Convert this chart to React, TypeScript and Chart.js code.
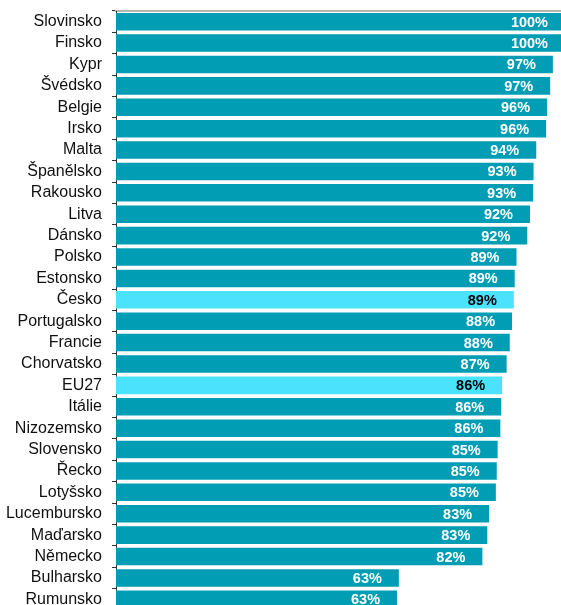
import React, { useEffect, useRef } from 'react';
import { Chart, registerables } from 'chart.js';

Chart.register(...registerables);

const categories = [
  'Slovinsko', 'Finsko', 'Kypr', 'Švédsko', 'Belgie', 'Irsko', 'Malta', 'Španělsko',
  'Rakousko', 'Litva', 'Dánsko', 'Polsko', 'Estonsko', 'Česko', 'Portugalsko', 'Francie',
  'Chorvatsko', 'EU27', 'Itálie', 'Nizozemsko', 'Slovensko', 'Řecko', 'Lotyšsko',
  'Lucembursko', 'Maďarsko', 'Německo', 'Bulharsko', 'Rumunsko',
];

const values = [
  100, 100, 97.3, 96.7, 96.0, 95.8, 93.6, 93.0,
  92.9, 92.2, 91.6, 89.2, 88.8, 88.6, 88.2, 87.7,
  87.0, 86.0, 85.8, 85.6, 85.0, 84.8, 84.6,
  83.1, 82.7, 81.6, 63.0, 62.6,
];

const highlighted = ['Česko', 'EU27'];

const BAR = '#009DB4';
const BAR_HI = '#4AE2FD';
const FONT = "'Liberation Sans', Arial, sans-serif";

export default function App() {
  const ref = useRef<HTMLCanvasElement>(null);

  useEffect(() => {
    const labelPlugin = {
      id: 'valueLabels',
      afterDatasetsDraw(chart: any) {
        const ctx = chart.ctx;
        const meta = chart.getDatasetMeta(0);
        ctx.save();
        ctx.font = `bold 14.5px ${FONT}`;
        ctx.textAlign = 'right';
        ctx.textBaseline = 'middle';
        meta.data.forEach((el: any, i: number) => {
          ctx.fillStyle = highlighted.includes(categories[i]) ? '#000000' : '#ffffff';
          ctx.fillText(Math.round(values[i]) + '%', el.x - 17, el.y + 1);
        });
        ctx.restore();
      },
    };

    const chart = new Chart(ref.current as HTMLCanvasElement, {
      type: 'bar',
      data: {
        labels: categories,
        datasets: [
          {
            data: values,
            backgroundColor: categories.map((c) => (highlighted.includes(c) ? BAR_HI : BAR)),
            barPercentage: 0.82,
            categoryPercentage: 1,
          },
        ],
      },
      options: {
        indexAxis: 'y',
        animation: false,
        responsive: false,
        maintainAspectRatio: false,
        layout: { autoPadding: false, padding: { top: 11, right: 15, bottom: 10, left: 0 } },
        plugins: { legend: { display: false }, tooltip: { enabled: false } },
        scales: {
          x: {
            position: 'top',
            min: 0,
            max: 100,
            ticks: { display: false },
            grid: { display: false, drawTicks: false },
            border: { display: true, color: '#b3b3b3', width: 2 },
          },
          y: {
            afterFit: (s: any) => {
              s.width = 116;
              s.paddingTop = 0;
              s.paddingBottom = 0;
            },
            ticks: {
              color: '#111111',
              font: { size: 16, family: FONT },
              padding: 10,
              autoSkip: false,
            },
            grid: {
              display: true,
              drawOnChartArea: false,
              drawTicks: true,
              tickLength: 4,
              offset: true,
              color: '#333333',
            },
            border: { display: true, color: '#333333', width: 1 },
          },
        },
      },
      plugins: [labelPlugin],
    });
    return () => chart.destroy();
  }, []);

  return (
    <div
      style={{
        position: 'fixed',
        left: 0,
        top: 0,
        width: 561,
        height: 605,
        overflow: 'hidden',
        background: '#ffffff',
      }}
    >
      <canvas ref={ref} width={580} height={620} style={{ display: 'block', width: 580, height: 620 }} />
    </div>
  );
}
